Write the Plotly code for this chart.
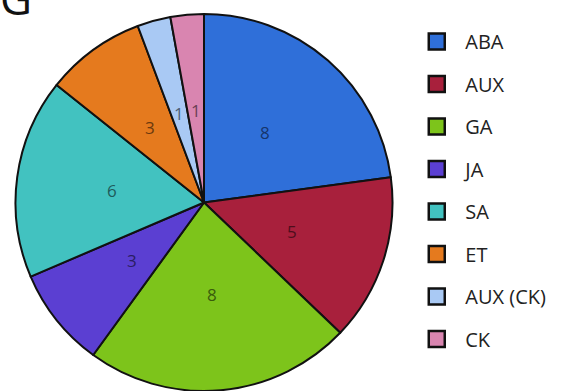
import math
import plotly.graph_objects as go

labels = ["ABA", "AUX", "GA", "JA", "SA", "ET", "AUX (CK)", "CK"]
values = [8, 5, 8, 3, 6, 3, 1, 1]
colors = ["#2F6FD9", "#A8203C", "#7DC41B", "#5B3FD2", "#42C2C0", "#E57A1E", "#A9C9F4", "#D985B0"]
text_colors = ["#16356B", "#4E0E1C", "#3A5C0C", "#2A1D63", "#1E5B5A", "#6B390D", "#4D5E75", "#6B3F55"]

W, H = 571, 391
cx_px, cy_px, r_px = 204.0, 202.5, 188.5

fig = go.Figure(go.Pie(
    labels=labels,
    values=values,
    sort=False,
    direction="clockwise",
    rotation=0,
    marker=dict(colors=colors, line=dict(color="#111111", width=2)),
    textinfo="none",
    showlegend=False,
    domain=dict(x=[(cx_px - r_px) / W, (cx_px + r_px) / W],
                y=[1 - (cy_px + r_px) / H, 1 - (cy_px - r_px) / H]),
    hoverinfo="label+value",
))

# legend entries (one per category, same colours as the slices)
for i, (lab, col) in enumerate(zip(labels, colors)):
    fig.add_trace(go.Scatter(
        x=[None], y=[None], mode="markers", name=lab, legendgroup=f"g{i}",
        marker=dict(symbol="square", size=22, color=col,
                    line=dict(color="#111111", width=2.5)),
        hoverinfo="skip",
    ))

# value labels placed at each slice's mid-angle, derived from the values
total = sum(values)
cum = 0
for v, tc in zip(values, text_colors):
    mid = (cum + v / 2) / total * 2 * math.pi
    cum += v
    dx = 0.49 * r_px * math.sin(mid)
    dy = 0.49 * r_px * math.cos(mid)
    fig.add_annotation(text=str(v), x=(cx_px + dx) / W, y=1 - (cy_px - dy) / H,
                       xref="paper", yref="paper", showarrow=False,
                       xanchor="center", yanchor="middle",
                       font=dict(size=17, family="Open Sans", color=tc))

fig.add_annotation(text="G", x=-0.003, y=1 - 30 / H, xref="paper", yref="paper",
                   xanchor="left", yanchor="bottom", showarrow=False,
                   font=dict(size=44, family="Open Sans", color="#111111"))

fig.update_layout(
    width=W, height=H,
    margin=dict(l=0, r=0, t=0, b=0),
    paper_bgcolor="white",
    plot_bgcolor="white",
    xaxis=dict(visible=False),
    yaxis=dict(visible=False),
    legend=dict(x=0.715, y=0.944, xanchor="left", yanchor="top",
                font=dict(size=20, family="Open Sans", color="#222222"),
                itemwidth=47, tracegroupgap=13.5, itemsizing="trace"),
    showlegend=True,
)

fig.write_html("out.html")
